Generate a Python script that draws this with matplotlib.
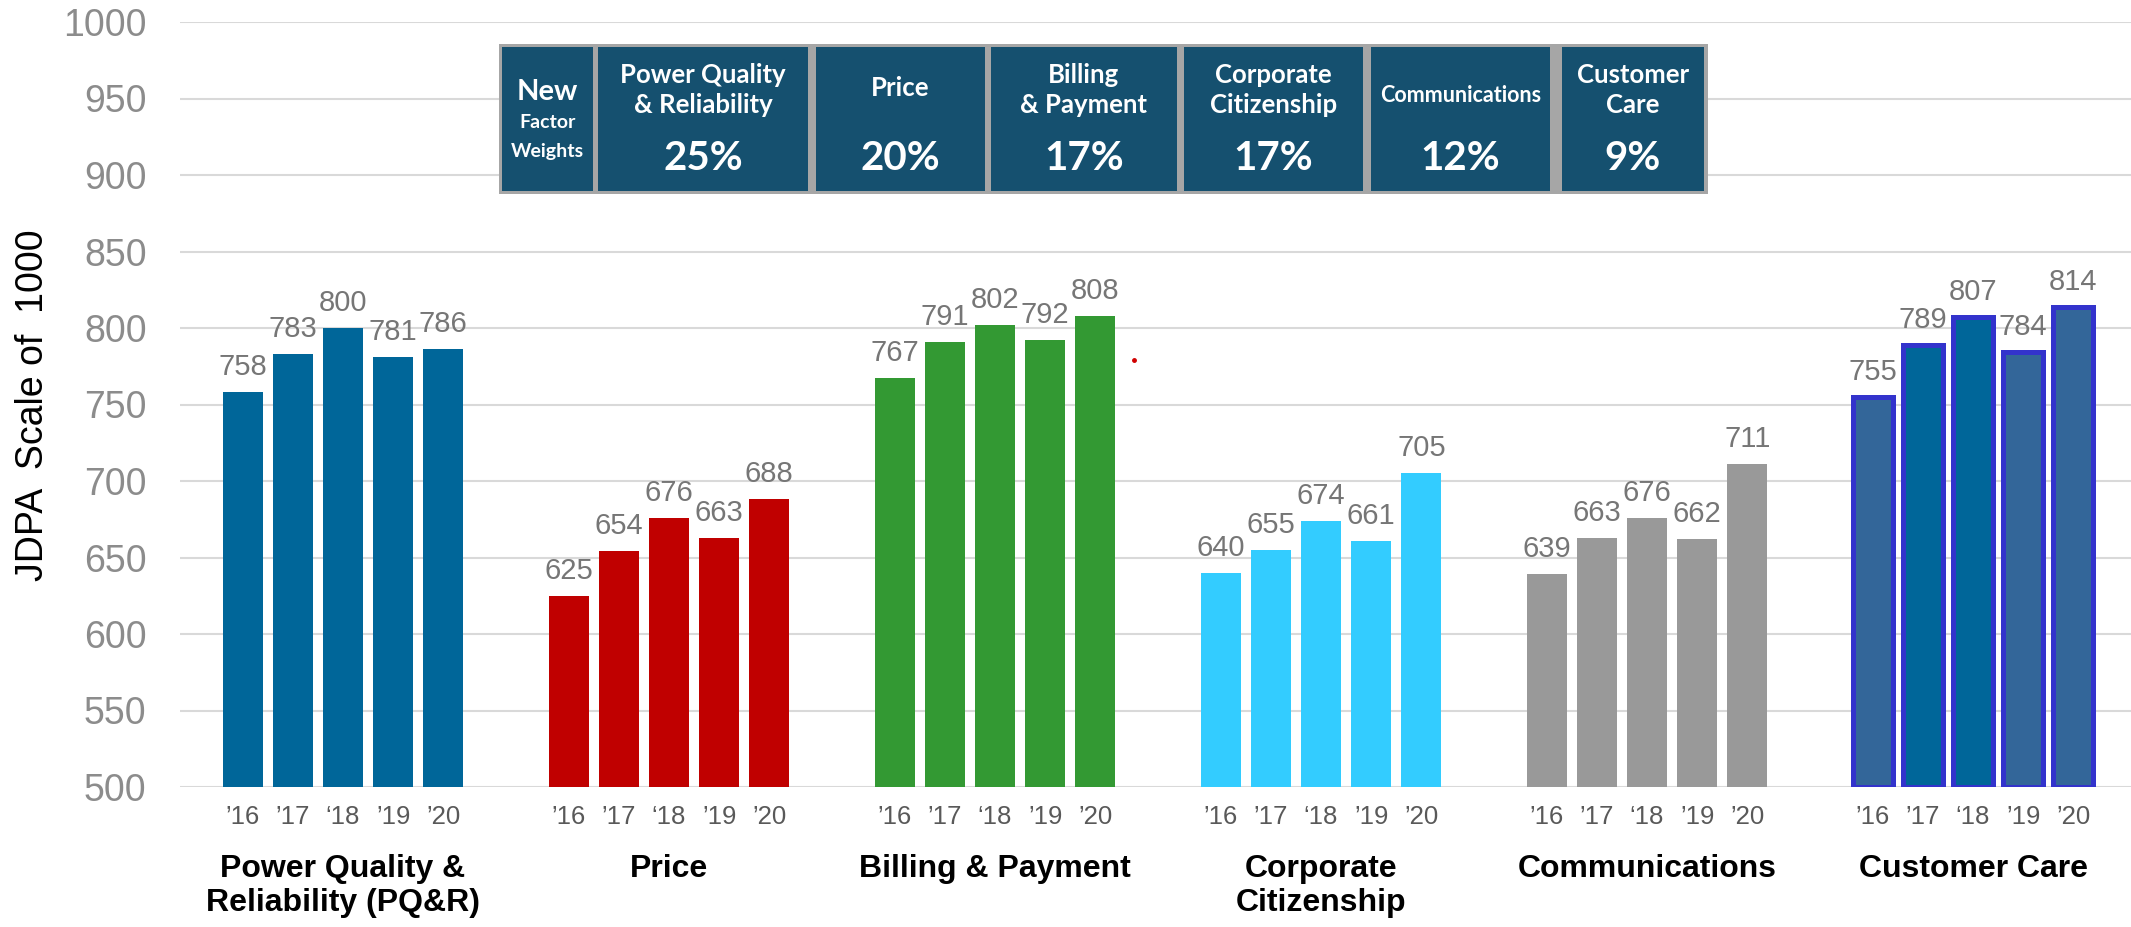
import matplotlib
matplotlib.use("Agg")
import matplotlib.pyplot as plt
from matplotlib.patches import Rectangle
from matplotlib.transforms import blended_transform_factory

plt.rcParams["font.family"] = ["Liberation Sans", "DejaVu Sans"]

# data
groups = ["Power Quality &\nReliability (PQ&R)", "Price", "Billing & Payment",
          "Corporate\nCitizenship", "Communications", "Customer Care"]
years = ["\u201916", "\u201917", "\u201818", "\u201919", "\u201920"]
pqr = [758, 783, 800, 781, 786]
price = [625, 654, 676, 663, 688]
billing = [767, 791, 802, 792, 808]
corporate = [640, 655, 674, 661, 705]
communications = [639, 663, 676, 662, 711]
customer_care = [755, 789, 807, 784, 814]
series = [pqr, price, billing, corporate, communications, customer_care]

colors = ["#006699", "#c00000", "#339933", "#33ccff", "#999999", None]
cc_faces = ["#336699", "#006699", "#006699", "#336699", "#336699"]

weight_names = ["Power Quality\n& Reliability", "Price", "Billing\n& Payment",
                "Corporate\nCitizenship", "Communications", "Customer\nCare"]
weights = ["25%", "20%", "17%", "17%", "12%", "9%"]

W, H = 2131, 927
fig = plt.figure(figsize=(W / 100, H / 100), dpi=100)
ax = fig.add_axes([180 / W, 1 - 787 / H, 1 - 180 / W, (787 - 22) / H])

gap = 6.5
xs, xl = [], []
for i, vals in enumerate(series):
    for j, v in enumerate(vals):
        x = i * gap + j - 2
        xs.append(x)
        xl.append(years[j])
        if colors[i] is not None:
            ax.bar(x, v - 500, bottom=500, width=0.8, color=colors[i], zorder=2)
        else:
            ax.bar(x, v - 500, bottom=500, width=0.8, color=cc_faces[j],
                   edgecolor="#3333cc", linewidth=3.6, zorder=2)
        ax.annotate(str(v), (x, v), xytext=(0, 18), textcoords="offset points",
                    ha="center", va="center", fontsize=21, color="#767676")

ax.set_ylim(500, 1000)
ax.set_xlim(-3.25, 35.65)
ax.set_yticks(range(500, 1001, 50))
ax.yaxis.grid(True, color="#d9d9d9", linewidth=1.5, zorder=0)
ax.set_axisbelow(True)
for s in ax.spines.values():
    s.set_visible(False)
ax.tick_params(axis="y", length=0, pad=24, labelsize=27, labelcolor="#8c8c8c")
ax.set_xticks(xs)
ax.set_xticklabels(xl, fontsize=18.5, color="#595959")
ax.tick_params(axis="x", length=0, pad=13)

tr = blended_transform_factory(ax.transData, ax.transAxes)
for i, g in enumerate(groups):
    ax.text(i * gap, -0.088, g, transform=tr, ha="center", va="top",
            fontsize=23, fontweight="bold", linespacing=1.15)

fig.text(33 / W, 1 - 405 / H, "JDPA  Scale of  1000", rotation=90,
         ha="center", va="center", fontsize=27)

# stray red dot
ax.plot([15.77], [779], "o", color="#d00000", markersize=2.5)

# header table of factor weights
def fx(px):
    return px / W

def fy(py):
    return 1 - py / H

fig.patches.append(Rectangle((fx(499), fy(194)), fx(1708) - fx(499), fy(44) - fy(194),
                             transform=fig.transFigure, facecolor="#a6a6a6",
                             edgecolor="none", zorder=5))
cells = [(502, 593), (598, 808), (816, 985), (991, 1177), (1184, 1363),
         (1371, 1550), (1562, 1704)]
for (a, b) in cells:
    fig.patches.append(Rectangle((fx(a), fy(191)), fx(b) - fx(a), fy(47) - fy(191),
                                 transform=fig.transFigure, facecolor="#15506f",
                                 edgecolor="none", zorder=6))
hdr = dict(color="white", fontweight="bold", ha="center", va="center", zorder=7,
           family=["Lato", "DejaVu Sans"])
a, b = cells[0]
fig.text(fx((a + b) / 2), fy(92), "New", fontsize=21, **hdr)
fig.text(fx((a + b) / 2), fy(122), "Factor", fontsize=14, **hdr)
fig.text(fx((a + b) / 2), fy(152), "Weights", fontsize=14, **hdr)
for k, (a, b) in enumerate(cells[1:]):
    cx = fx((a + b) / 2)
    name = weight_names[k]
    if "\n" in name:
        fig.text(cx, fy(90), name, fontsize=18.5, linespacing=1.3, **hdr)
    elif name == "Communications":
        fig.text(cx, fy(95), name, fontsize=15.5, **hdr)
    else:
        fig.text(cx, fy(88), name, fontsize=18.5, **hdr)
    fig.text(cx, fy(159), weights[k], fontsize=29, **hdr)

fig.savefig("out.png", dpi=100)
